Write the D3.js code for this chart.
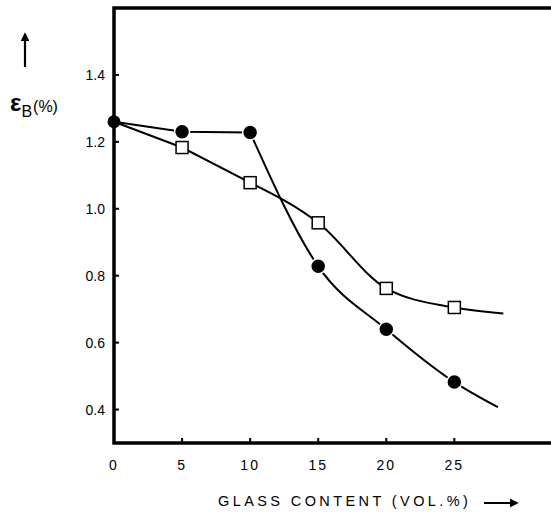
<!DOCTYPE html>
<html>
<head>
<meta charset="utf-8">
<script src="https://cdn.jsdelivr.net/npm/d3@7"></script>
<style>
  body { margin: 0; background: #fff; }
  svg text { font-family: "Liberation Sans", Arial, sans-serif; fill: #000; }
</style>
</head>
<body>
<div class="chart"></div>
<script>
var width = 551;
var height = 512;

// data
var glass = [0, 5, 10, 15, 20, 25];
var strainDots = [1.26, 1.23, 1.228, 0.828, 0.64, 0.482];
var strainSquares = [1.26, 1.183, 1.078, 0.958, 0.762, 0.705];
var dotsTail = [28.2, 0.407];     // curve continues past last point
var squaresTail = [28.6, 0.687];
var xTicks = [0, 5, 10, 15, 20, 25];
var yTicks = [0.4, 0.6, 0.8, 1.0, 1.2, 1.4];

var x = d3.scaleLinear().domain([0, 32.1]).range([114, 551]);
var y = d3.scaleLinear().domain([0.3, 1.6]).range([443, 8]);

var svg = d3.select(".chart")
    .append("svg")
    .attr("width", width)
    .attr("height", height);

// frame: top line, left axis, bottom axis
svg.append("path")
    .attr("d", "M" + x(32.1) + "," + y(1.6) + "H" + x(0) + "V" + y(0.3) + "H" + x(32.1))
    .attr("fill", "none")
    .attr("stroke", "#000")
    .attr("stroke-width", 3.5);

// ticks point inward
svg.selectAll(".ytick").data(yTicks).enter()
    .append("line")
    .attr("x1", x(0)).attr("x2", x(0) + 5)
    .attr("y1", function(d) { return y(d); })
    .attr("y2", function(d) { return y(d); })
    .attr("stroke", "#000").attr("stroke-width", 2);

svg.selectAll(".ylab").data(yTicks).enter()
    .append("text")
    .attr("x", x(0) - 9)
    .attr("y", function(d) { return y(d) + 5; })
    .attr("text-anchor", "end")
    .style("font-size", "14px")
    .text(function(d) { return d.toFixed(1); });

svg.selectAll(".xtick").data(xTicks.slice(1)).enter()
    .append("line")
    .attr("x1", function(d) { return x(d); })
    .attr("x2", function(d) { return x(d); })
    .attr("y1", y(0.3)).attr("y2", y(0.3) - 5)
    .attr("stroke", "#000").attr("stroke-width", 2);

svg.selectAll(".xlab").data(xTicks).enter()
    .append("text")
    .attr("x", function(d) { return x(d); })
    .attr("y", 470)
    .attr("text-anchor", "middle")
    .style("font-size", "14px")
    .style("letter-spacing", "2px")
    .text(function(d) { return d; });

// axis titles
svg.append("text")
    .attr("x", 218).attr("y", 506)
    .style("font-size", "14.5px")
    .style("letter-spacing", "3.4px")
    .text("GLASS  CONTENT (VOL.%)");

var arrowHead = svg.append("defs").append("marker")
    .attr("id", "head")
    .attr("viewBox", "0 0 10 10")
    .attr("refX", 8).attr("refY", 5)
    .attr("markerWidth", 4).attr("markerHeight", 4)
    .attr("orient", "auto");
arrowHead.append("path").attr("d", "M0,0L10,5L0,10Z").attr("fill", "#000");

svg.append("line")
    .attr("x1", 484).attr("y1", 503).attr("x2", 517).attr("y2", 503)
    .attr("stroke", "#000").attr("stroke-width", 2.2)
    .attr("marker-end", "url(#head)");

svg.append("line")
    .attr("x1", 25).attr("y1", 67).attr("x2", 25).attr("y2", 34)
    .attr("stroke", "#000").attr("stroke-width", 2.2)
    .attr("marker-end", "url(#head)");

var ylab = svg.append("text").attr("x", 10).attr("y", 111);
ylab.append("tspan").style("font-size", "24px").style("font-weight", "bold").text("ε");
ylab.append("tspan").style("font-size", "16px").attr("dy", 6).text("B");
ylab.append("tspan").style("font-size", "16px").attr("dy", -5).attr("dx", 1).text("(%)");

// curves
var lineStraight = d3.line()
    .x(function(d) { return x(d[0]); })
    .y(function(d) { return y(d[1]); });
var lineSmooth = d3.line()
    .x(function(d) { return x(d[0]); })
    .y(function(d) { return y(d[1]); })
    .curve(d3.curveMonotoneX);

var dots = glass.map(function(g, i) { return [g, strainDots[i]]; });
var squares = glass.map(function(g, i) { return [g, strainSquares[i]]; });

function drawLine(pts, gen) {
    svg.append("path")
        .attr("d", gen(pts))
        .attr("fill", "none")
        .attr("stroke", "#000")
        .attr("stroke-width", 2);
}

drawLine(dots.slice(0, 3), lineStraight);
drawLine(dots.slice(2).concat([dotsTail]), lineSmooth);
drawLine(squares.slice(0, 3), lineStraight);
drawLine(squares.slice(2).concat([squaresTail]), lineSmooth);

// markers, with a white halo so lines stop short of them
svg.selectAll(".sq").data(squares.slice(1)).enter()
    .append("rect")
    .attr("x", function(d) { return x(d[0]) - 6; })
    .attr("y", function(d) { return y(d[1]) - 6; })
    .attr("width", 12).attr("height", 12)
    .attr("fill", "#fff")
    .attr("stroke", "#000")
    .attr("stroke-width", 1.5);

svg.selectAll(".dot").data(dots).enter()
    .append("circle")
    .attr("cx", function(d) { return x(d[0]); })
    .attr("cy", function(d) { return y(d[1]); })
    .attr("r", function(d, i) { return i === 0 ? 6.5 : 7.5; })
    .attr("fill", "#000")
    .attr("stroke", "#fff")
    .attr("stroke-width", function(d, i) { return i === 0 ? 0 : 1.5; });
</script>
</body>
</html>
